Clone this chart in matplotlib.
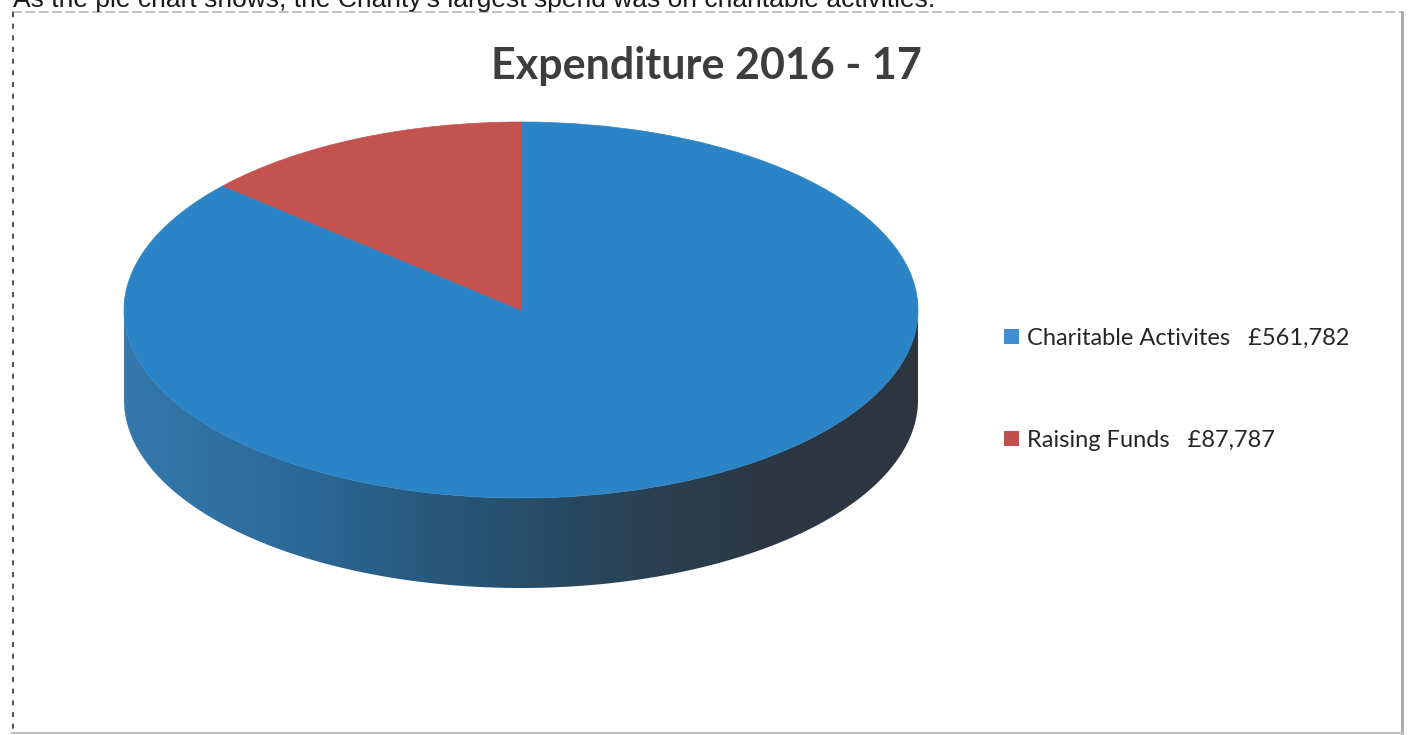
import numpy as np
import matplotlib.pyplot as plt
from matplotlib.patches import Wedge, Polygon, Patch
from matplotlib.colors import LinearSegmentedColormap
from matplotlib.transforms import Affine2D

# data
categories = ["Charitable Activites", "Raising Funds"]
amounts = [561782, 87787]
colors = ["#2b84c6", "#c4524f"]
legend_colors = ["#3f8fd3", "#c0504d"]
title = "Expenditure 2016 - 17"
caption = "As the pie chart shows, the Charity's largest spend was on charitable activities."

W, H = 1409, 735
fig = plt.figure(figsize=(W / 100, H / 100), dpi=100)
ax = fig.add_axes([0, 0, 1, 1])
ax.set_xlim(0, W)
ax.set_ylim(H, 0)
ax.axis("off")

# pie geometry (pixels)
cx, cy, rx, ry, depth = 521, 310, 397, 188, 90

# side wall of the cylinder (front half)
t = np.linspace(np.pi, 2 * np.pi, 200)
top_x = cx + rx * np.cos(t)
top_y = cy - ry * np.sin(t)
pts = np.column_stack([np.r_[top_x, top_x[::-1]],
                       np.r_[top_y, top_y[::-1] + depth]])
side = Polygon(pts, closed=True, facecolor="none", edgecolor="none")
ax.add_patch(side)
side_cmap = LinearSegmentedColormap.from_list(
    "side", ["#3579ad", "#2d6b9b", "#27587b", "#29455a", "#2c3844", "#2d3540"])
grad = np.linspace(0, 1, 256).reshape(1, -1)
im = ax.imshow(grad, cmap=side_cmap, aspect="auto",
               extent=[cx - rx, cx + rx, cy + ry + depth, cy - 5],
               zorder=1)
im.set_clip_path(side)

# top face
frac = np.array(amounts) / sum(amounts)
ell = Affine2D().scale(rx, -ry).translate(cx, cy) + ax.transData
starts = {}
theta = 90.0
for name, f in zip(categories[::-1], frac[::-1]):
    starts[name] = (theta, theta + f * 360)
    theta += f * 360
for name, c in zip(categories, colors):
    t1, t2 = starts[name]
    ax.add_patch(Wedge((0, 0), 1, t1, t2, facecolor=c, edgecolor=c,
                       lw=0.5, transform=ell, zorder=2))

# title and page text
ax.text(706, 66, title, fontsize=31, fontweight="bold", family="Lato",
        color="#3d3d3d", ha="center", va="center")
ax.text(13, 7, caption, fontsize=19, family="Liberation Sans",
        color="#1a1a1a", ha="left", va="baseline")

# frame
ax.plot([12, 1402], [12, 12], color="#b5b5b5", lw=1.2, ls=(0, (6, 2)))
ax.plot([1402, 1402], [12, 733], color="#a8a8a8", lw=2)
ax.plot([12, 1402], [733, 733], color="#c0c0c0", lw=1.5)
ax.plot([13, 13], [12, 733], color="#333333", lw=1.2, ls=(0, (3, 4)))

# legend
handles = [Patch(facecolor=c, edgecolor="none") for c in legend_colors]
labels = [f"{n}   £{v:,}" for n, v in zip(categories, amounts)]
leg = ax.legend(handles, labels, loc="upper left",
                bbox_to_anchor=(995 / W, 1 - 318 / H), frameon=False,
                prop={"family": "Lato", "size": 17}, handlelength=0.6,
                handleheight=0.6, handletextpad=0.35, labelspacing=3.45,
                borderaxespad=0)
for txt in leg.get_texts():
    txt.set_color("#262626")

fig.savefig("out.png", dpi=100, facecolor="white")
